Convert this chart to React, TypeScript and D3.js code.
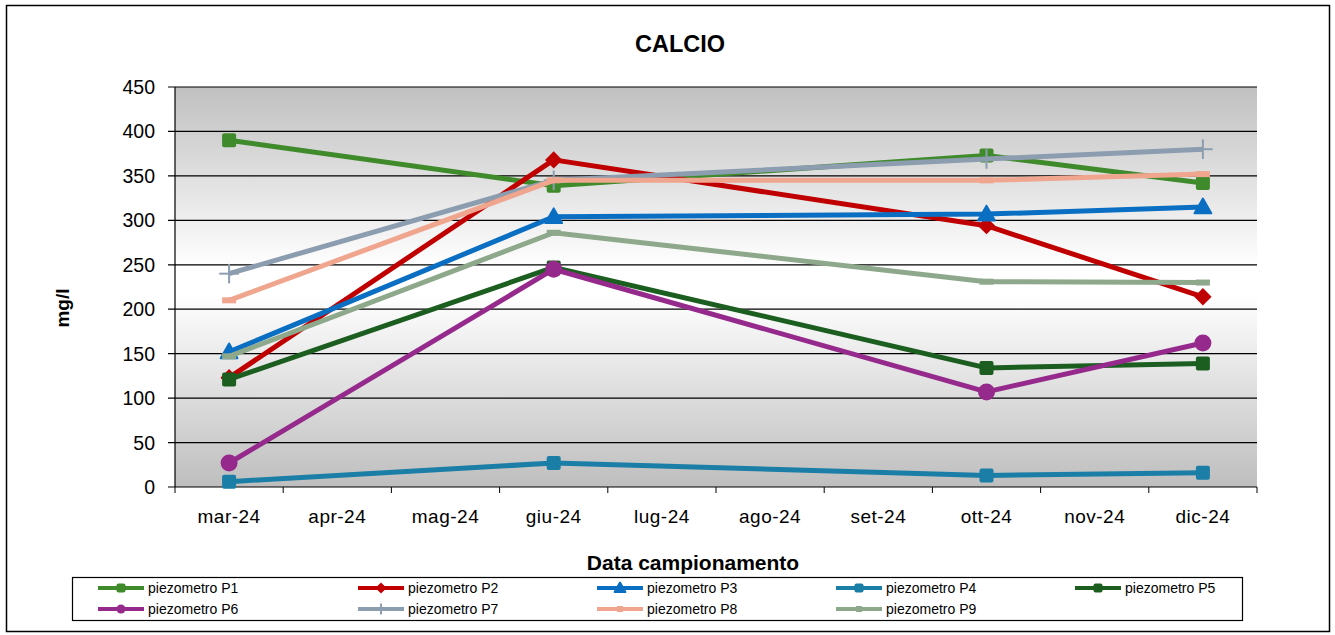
import React from "react";
import * as d3 from "d3";

const months = ["mar-24", "apr-24", "mag-24", "giu-24", "lug-24", "ago-24", "set-24", "ott-24", "nov-24", "dic-24"];
const yTicks = [0, 50, 100, 150, 200, 250, 300, 350, 400, 450];

const seriesNames = ["piezometro  P1", "piezometro P2", "piezometro P3", "piezometro P4", "piezometro P5", "piezometro P6", "piezometro P7", "piezometro P8", "piezometro P9"];
const seriesColors = ["#3f8a2b", "#c00000", "#0a6fc2", "#1b7ea6", "#1b5e20", "#952a8c", "#8c9db0", "#f0a58e", "#8ea88b"];
const seriesMarkers = ["square", "diamond", "triangle", "square", "square", "circle", "plus", "dash", "dash"];

const p1 = [390, null, null, 339, null, null, null, 373, null, 342];
const p2 = [123, null, null, 368, null, null, null, 294, null, 214];
const p3 = [152, null, null, 304, null, null, null, 307, null, 315];
const p4 = [6, null, null, 27, null, null, null, 13, null, 16];
const p5 = [121, null, null, 247, null, null, null, 134, null, 139];
const p6 = [27, null, null, 245, null, null, null, 107, null, 162];
const p7 = [240, null, null, 345, null, null, null, 369, null, 380];
const p8 = [210, null, null, 345, null, null, null, 345, null, 352];
const p9 = [147, null, null, 286, null, null, null, 231, null, 230];
const seriesValues = [p1, p2, p3, p4, p5, p6, p7, p8, p9];

const plot = { left: 175, right: 1257, top: 87, bottom: 487 };

function Marker({ type, x, y, color, s }: { type: string; x: number; y: number; color: string; s: number }) {
  if (type === "square") return <rect x={x - s / 2} y={y - s / 2} width={s} height={s} rx={2} fill={color} />;
  if (type === "diamond") {
    const h = s * 0.62;
    return <path d={`M${x},${y - h}L${x + h},${y}L${x},${y + h}L${x - h},${y}Z`} fill={color} />;
  }
  if (type === "triangle") {
    const h = s * 0.6;
    return <path d={`M${x},${y - h}L${x + h},${y + h * 0.75}L${x - h},${y + h * 0.75}Z`} fill={color} stroke={color} strokeWidth={2} strokeLinejoin="round" />;
  }
  if (type === "circle") return <circle cx={x} cy={y} r={s / 2} fill={color} />;
  if (type === "plus")
    return (
      <g stroke={color} strokeWidth={2}>
        <line x1={x - s * 0.7} x2={x + s * 0.7} y1={y} y2={y} />
        <line x1={x} x2={x} y1={y - s * 0.7} y2={y + s * 0.7} />
      </g>
    );
  if (type === "dash") return <line x1={x - s / 2} x2={x + s / 2} y1={y} y2={y} stroke={color} strokeWidth={6} />;
  return null;
}

export default function App() {
  const x = d3.scaleBand<string>().domain(months).range([plot.left, plot.right]);
  const y = d3.scaleLinear().domain([0, 450]).range([plot.bottom, plot.top]);
  const cx = (m: string) => (x(m) as number) + x.bandwidth() / 2;
  const font = "Arial, 'Liberation Sans', sans-serif";

  const legendCols = [148, 408, 647, 886, 1125];
  const legendRows = [588, 609];

  return (
    <svg width={1335} height={635} style={{ position: "absolute", left: 0, top: 0 }} fontFamily={font}>
      <defs>
        <linearGradient id="bg" x1="0" y1="0" x2="0" y2="1">
          <stop offset="0%" stopColor="#c0c0c0" />
          <stop offset="45%" stopColor="#ffffff" />
          <stop offset="52%" stopColor="#ffffff" />
          <stop offset="100%" stopColor="#bebebe" />
        </linearGradient>
      </defs>
      <rect x={0} y={0} width={1335} height={635} fill="#fff" />
      <rect x={6.5} y={5.5} width={1323} height={626} fill="#fff" stroke="#000" strokeWidth={1.5} />
      <text x={680} y={52} textAnchor="middle" fontSize={23.5} fontWeight="bold">CALCIO</text>

      <rect x={plot.left} y={plot.top} width={plot.right - plot.left} height={plot.bottom - plot.top} fill="url(#bg)" />
      {yTicks.map((t) => (
        <g key={t}>
          <line x1={plot.left - 7} x2={plot.right} y1={y(t)} y2={y(t)} stroke="#000" strokeWidth={1.2} />
          <text x={155} y={y(t) + 7} textAnchor="end" fontSize={19.5}>{t}</text>
        </g>
      ))}
      <line x1={plot.left} x2={plot.left} y1={plot.top} y2={plot.bottom} stroke="#000" strokeWidth={1.2} />
      {months.map((m, i) => (
        <g key={m}>
          <line x1={(x(m) as number)} x2={(x(m) as number)} y1={plot.bottom} y2={plot.bottom + 6} stroke="#000" />
          {i === months.length - 1 && (
            <line x1={plot.right} x2={plot.right} y1={plot.bottom} y2={plot.bottom + 6} stroke="#000" />
          )}
          <text x={cx(m)} y={523} textAnchor="middle" fontSize={19} letterSpacing={0.5}>{m}</text>
        </g>
      ))}

      <text transform={`translate(69,308) rotate(-90)`} textAnchor="middle" fontSize={19} fontWeight="bold">mg/l</text>
      <text x={693} y={570} textAnchor="middle" fontSize={21} fontWeight="bold">Data campionamento</text>

      {seriesValues.map((vals, si) => {
        const pts = months
          .map((m, i) => ({ m, v: vals[i] }))
          .filter((d) => d.v !== null) as { m: string; v: number }[];
        const line = d3.line<{ m: string; v: number }>().x((d) => cx(d.m)).y((d) => y(d.v));
        return (
          <g key={si}>
            <path d={line(pts) || ""} fill="none" stroke={seriesColors[si]} strokeWidth={5} strokeLinejoin="round" />
            {pts.map((d) => (
              <Marker key={d.m} type={seriesMarkers[si]} x={cx(d.m)} y={y(d.v)} color={seriesColors[si]} s={si === 5 ? 17 : 14} />
            ))}
          </g>
        );
      })}

      <rect x={72.5} y={577.5} width={1170} height={43} fill="#fff" stroke="#000" strokeWidth={1.2} />
      {seriesNames.map((n, i) => {
        const col = legendCols[i % 5];
        const row = legendRows[Math.floor(i / 5)];
        return (
          <g key={n}>
            <line x1={col - 50} x2={col - 4} y1={row} y2={row} stroke={seriesColors[i]} strokeWidth={4} />
            <Marker type={seriesMarkers[i]} x={col - 27} y={row} color={seriesColors[i]} s={seriesMarkers[i] === "plus" ? 8 : seriesMarkers[i] === "dash" ? 6 : 9} />
            <text x={col} y={row + 5} fontSize={14}>{n}</text>
          </g>
        );
      })}
    </svg>
  );
}
